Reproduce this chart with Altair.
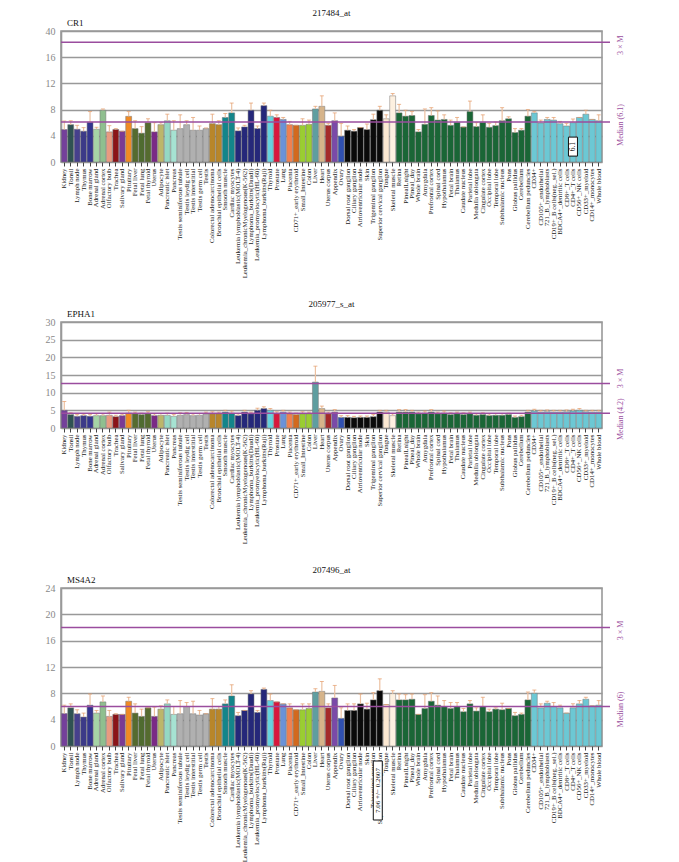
import altair as alt
import pandas as pd

tissues = ["Kidney", "Tonsil", "Lymph node", "Thymus", "Bone marrow", "Adrenal gland", "Adrenal cortex",
           "Olfactory bulb", "Trachea", "Salivary gland", "Pituitary", "Fetal liver", "Fetal lung",
           "Fetal thyroid", "Uterus", "Adipocyte", "Pancreatic islet", "Pancreas",
           "Testis seminiferous tubule", "Testis leydig cell", "Testis interstitial", "Testis germ cell",
           "Testis", "Colorectal adenocarcinoma", "Bronchial epithelial cells", "Smooth muscle",
           "Cardiac myocytes", "Leukemia lymphoblastic(MOLT-4)", "Leukemia_chronicMyelogenous(K-562)",
           "Lymphoma_burkitts(Daudi)", "Leukemia_promyelocytic(HL-60)", "Lymphoma_burkitts(Raji)",
           "Thyroid", "Prostate", "Lung", "Placenta", "CD71+_early erythroid", "Small_Intestine", "Colon",
           "Liver", "Heart", "Uterus corpus", "Appendix", "Ovary", "Dorsal root ganglion",
           "Ciliary ganglion", "Atrioventricular node", "Skin", "Trigeminal ganglion",
           "Superior cervical ganglion", "Tongue", "Skeletal muscle", "Retina", "PinealLnight",
           "Pineal_day", "Whole brain", "Amygdala", "Prefrontal cortex", "Spinal cord", "Hypothalamus",
           "Fetal brain", "Thalamus", "Caudate nucleus", "Parietal lobe", "Medulla oblongata",
           "Cingulate cortex", "Occipital lobe", "Temporal lobe", "Subthalamic nucleus", "Pons",
           "Globus pallidus", "Cerebellum", "Cerebellum peduncles", "CD34+", "CD105+_endothelial",
           "721_B_lymphoblasts", "CD19+_B cells(neg._sel.)", "BDCA4+_dentritic cells", "CD8+_T cells",
           "CD4+_T cells", "CD56+_NK cells", "CD33+_myeloid", "CD14+_monocytes", "Whole blood"]

colors = (["#74409a", "#2f5252", "#46408c", "#3c3a88", "#34358f", "#a6d4a6", "#8fbf8f", "#e99a80",
           "#8b1418", "#7a3a94", "#f08a24", "#556b2f", "#4f6b30", "#556b2f", "#7a2a86", "#bcb66a",
           "#94d8c4", "#a6e2d2"] + ["#b0b0b0"] * 5 + ["#b8862a", "#b8862a", "#13858a", "#13858a"]
          + ["#25287a"] * 5 + ["#66d2de", "#d8183c", "#6a92d8", "#f08050", "#d2691e", "#9acd32",
                               "#9acd32", "#5f9ea0", "#d6b48a", "#a52a2a", "#7a4aa8", "#3050b0"]
          + ["#0a0a0a"] * 6 + ["#fbe8d2", "#fdf0e0"] + ["#1a6636"] * 21 + ["#6cc8d4"] * 11)

cr1_mean = [4.95, 5.7, 5.0, 4.7, 6.06, 5.0, 7.9, 4.6, 4.96, 4.7, 6.97, 5.1, 4.4, 6.0, 4.6, 5.7, 6.3,
            4.85, 5.1, 5.7, 4.85, 4.85, 5.1, 5.86, 5.7, 6.8, 7.5, 4.75, 5.35, 7.9, 5.1, 8.6, 7.0, 6.8,
            6.5, 5.7, 5.6, 5.6, 5.75, 8.1, 8.5, 5.6, 6.3, 3.94, 4.85, 4.7, 5.25, 4.95, 6.45, 7.9, 6.6,
            10.1, 7.5, 7.0, 7.1, 4.6, 5.75, 7.1, 6.4, 6.5, 5.6, 6.05, 5.35, 7.7, 5.4, 6.05, 5.3, 5.55,
            6.3, 6.6, 4.5, 4.85, 7.0, 7.5, 5.95, 6.5, 6.4, 5.85, 5.5, 6.0, 6.8, 7.3, 6.5, 6.3]
cr1_top = [6.26, 6.3, 5.6, 5.25, 7.7, 5.3, 8.1, 5.55, 5.1, 4.7, 7.7, 6.3, 5.4, 6.6, 6.0, 6.0, 7.3,
           6.3, 7.2, 6.3, 6.8, 5.5, 5.2, 7.3, 6.3, 7.4, 9.0, 5.2, 5.6, 9.0, 5.5, 9.0, 7.9, 7.2, 6.8,
           6.2, 5.6, 6.6, 6.4, 8.5, 10.1, 5.9, 7.5, 5.9, 5.5, 4.95, 5.25, 5.8, 7.3, 8.5, 7.2, 10.45,
           8.8, 7.9, 7.7, 4.95, 8.1, 8.3, 7.8, 7.2, 6.4, 6.8, 5.35, 9.3, 6.0, 7.2, 5.9, 6.1, 8.3, 6.9,
           5.1, 5.1, 8.0, 7.7, 6.4, 6.8, 6.8, 6.2, 5.9, 6.55, 6.8, 7.9, 6.5, 7.2]

epha1_mean = [5.0, 3.8, 3.3, 3.5, 3.3, 3.5, 3.5, 3.6, 3.2, 3.5, 4.2, 4.0, 3.8, 4.0, 3.5, 3.6, 3.6, 3.3,
              3.6, 3.8, 3.5, 3.6, 4.0, 4.0, 4.0, 4.5, 4.2, 3.5, 4.5, 4.0, 5.0, 5.5, 5.0, 4.0, 4.5, 4.0,
              3.8, 4.0, 4.0, 13.0, 5.5, 4.0, 4.5, 3.0, 3.0, 2.9, 3.0, 3.0, 3.2, 4.5, 4.5, 3.5, 4.5, 4.5,
              4.5, 4.0, 4.2, 4.5, 4.0, 4.2, 3.8, 4.0, 3.8, 4.0, 3.6, 3.8, 3.5, 3.6, 3.6, 3.8, 3.0, 3.2,
              4.5, 4.8, 4.5, 4.6, 4.5, 4.5, 4.6, 4.8, 5.0, 4.6, 4.5, 4.5]
epha1_top = [7.5, 4.3, 3.8, 3.9, 3.8, 4.0, 4.0, 4.5, 3.6, 3.9, 5.0, 4.5, 4.2, 4.6, 4.0, 4.1, 4.2, 3.8,
             4.3, 4.4, 4.0, 4.1, 4.5, 4.6, 4.5, 5.0, 4.8, 4.0, 5.0, 4.5, 5.6, 6.0, 5.5, 4.6, 5.0, 4.5,
             4.2, 4.6, 4.5, 17.5, 6.2, 4.5, 5.2, 3.5, 3.5, 3.3, 3.4, 3.4, 3.8, 5.0, 5.0, 4.0, 5.2, 5.2,
             5.0, 4.5, 4.8, 5.2, 4.5, 4.8, 4.3, 4.5, 4.3, 4.5, 4.0, 4.3, 4.0, 4.1, 4.1, 4.2, 3.4, 3.6,
             5.0, 5.3, 5.0, 5.1, 5.0, 5.0, 5.1, 5.3, 5.5, 5.0, 5.0, 5.0]

ms4a2_mean = [4.92, 5.8, 4.9, 4.4, 6.2, 5.0, 6.7, 4.5, 4.8, 4.8, 6.8, 5.0, 4.5, 5.8, 4.5, 5.6, 6.4,
              4.8, 4.9, 6.0, 4.9, 4.7, 4.9, 5.6, 5.6, 6.4, 7.6, 4.6, 5.4, 7.9, 5.1, 8.6, 6.9, 6.7, 6.4,
              5.8, 5.5, 5.5, 5.7, 8.2, 8.3, 5.8, 7.3, 4.2, 5.4, 5.4, 6.4, 5.6, 7.0, 8.4, 6.3, 7.95,
              7.0, 7.0, 7.1, 4.8, 5.7, 6.8, 6.2, 6.0, 5.7, 6.0, 5.2, 6.4, 5.3, 6.0, 5.2, 5.6, 5.5, 5.7,
              4.6, 4.8, 7.0, 8.0, 5.8, 6.5, 6.0, 5.8, 5.0, 5.8, 6.4, 7.1, 6.1, 6.2]
ms4a2_top = [6.2, 6.4, 5.5, 5.0, 7.9, 5.4, 7.6, 5.4, 4.9, 4.8, 7.4, 6.4, 5.6, 5.8, 5.9, 6.1, 7.0,
             6.0, 6.9, 6.6, 6.8, 5.4, 4.9, 7.2, 6.0, 7.0, 9.3, 5.1, 5.4, 8.4, 5.4, 8.8, 7.9, 6.7, 6.4,
             6.4, 5.5, 6.4, 6.4, 8.7, 9.8, 6.4, 9.2, 5.8, 6.4, 6.4, 7.9, 6.5, 8.1, 10.2, 6.3, 8.4,
             7.9, 7.8, 7.9, 4.8, 7.8, 8.1, 7.6, 6.9, 6.6, 6.6, 5.7, 6.9, 5.8, 7.4, 5.6, 5.8, 6.5, 5.7,
             5.1, 5.0, 8.2, 8.5, 6.4, 6.8, 6.6, 6.2, 5.0, 6.4, 6.9, 7.4, 6.1, 6.9]

W = 541
PURPLE = "#9a4d9e"
SERIF = "Liberation Serif"


def panel(probe, gene, means, tops, ymax, ticks, tick_labels, median, height,
          label_shift=(3, 3), box=None, below=None):
    df = pd.DataFrame({"tissue": tissues, "mean": means, "top": tops, "color": colors})
    lab_expr = " : ".join([f"datum.value == {t} ? '{l}'" for t, l in zip(ticks, tick_labels)]) + " : ''"
    xs = alt.Scale(paddingInner=0.08, paddingOuter=0.05)
    xaxis = alt.Axis(title=None, labelAngle=-90, labelFontSize=6.8, labelFont=SERIF,
                     labelColor="#222", tickColor="#444", tickSize=4, domain=False,
                     labelPadding=2, labelLimit=300, labelOverlap=False)
    x = alt.X("tissue:N", sort=tissues, scale=xs, axis=xaxis)
    ysc = alt.Scale(domain=[0, ymax], nice=False, zero=True)
    yaxis = alt.Axis(title=None, values=ticks, labelExpr=lab_expr, labelFont=SERIF,
                     labelFontSize=10, labelColor="#888", ticks=False, labelPadding=6,
                     labelOverlap=False, grid=True,
                     gridColor="#999", gridWidth=1.6, domainColor="#999", domainWidth=1.6)

    def Y(field):
        return alt.Y(field, scale=ysc, axis=yaxis)

    base = alt.Chart(df)
    bars = base.mark_bar(stroke="#777", strokeWidth=0.5).encode(
        x=x, y=Y("mean:Q"), color=alt.Color("color:N", scale=None))
    err = base.mark_rule(color="#ecc0a0", strokeWidth=1.2).encode(
        x=x, y=Y("mean:Q"), y2="top:Q")
    caps = base.mark_tick(color="#e49a66", size=4, thickness=1).encode(
        x=x, y=Y("top:Q"))
    lines_df = pd.DataFrame({"v": [median, 3 * median]})
    lines = alt.Chart(lines_df).mark_rule(color=PURPLE, strokeWidth=1.5).encode(
        y=Y("v:Q"), x=alt.value(0), x2=alt.value(W + 8))
    ppu = height / ymax
    lab_df = pd.DataFrame({"v": [median - label_shift[0] / ppu, 3 * median - label_shift[1] / ppu],
                           "t": [f"Median ({median})", "3 × M"]})
    labs = alt.Chart(lab_df).mark_text(angle=270, color=PURPLE, font=SERIF, fontSize=8,
                                       align="center", baseline="middle").encode(
        y=Y("v:Q"), x=alt.value(W + 19), text="t:N")
    ttl_df = pd.DataFrame({"t": [probe], "g": [gene]})
    ttl = alt.Chart(ttl_df).mark_text(font=SERIF, fontSize=9, color="#111",
                                      baseline="middle").encode(
        x=alt.value(W / 2), y=alt.value(-18), text="t:N")
    gl = alt.Chart(ttl_df).mark_text(font=SERIF, fontSize=9, color="#111", align="left",
                                     baseline="middle").encode(
        x=alt.value(6), y=alt.value(-8), text="g:N")
    layers = [bars, err, caps, lines, labs, ttl, gl]
    if box is not None:
        bdf = pd.DataFrame({"tissue": [box[0]], "lo": [box[1]], "hi": [box[2]],
                            "mid": [(box[1] + box[2]) / 2], "t": [box[3]]})
        layers.append(alt.Chart(bdf).mark_bar(fill="white", stroke="#111", strokeWidth=1, width=9).encode(
            x=x, y=Y("lo:Q"), y2="hi:Q"))
        layers.append(alt.Chart(bdf).mark_text(angle=270, font=SERIF, fontSize=7.5, color="#111",
                                               baseline="middle").encode(
            x=x, y=Y("mid:Q"), text="t:N"))
    if below is not None:
        bdf = pd.DataFrame({"tissue": [below[0]], "t": [below[1]]})
        layers.append(alt.Chart(bdf).mark_bar(fill="white", stroke="#111", strokeWidth=1, width=9,
                                              xOffset=-2).encode(
            x=x, y=alt.value(height + 15), y2=alt.value(height + 74)))
        layers.append(alt.Chart(bdf).mark_text(angle=270, font=SERIF, fontSize=7, color="#111",
                                               baseline="middle", xOffset=-2).encode(
            x=x, y=alt.value(height + 44.5), text="t:N"))
    return alt.layer(*layers).properties(width=W, height=height)


p1 = panel("217484_at", "CR1", cr1_mean, cr1_top, 20, [0, 4, 8, 12, 16, 20],
           ["0", "4", "8", "12", "16", "40"], 6.1, 131, label_shift=(3, 3),
           box=("CD4+_T cells", 0.9, 3.8, "6.1"))
p2 = panel("205977_s_at", "EPHA1", epha1_mean, epha1_top, 30, [0, 5, 10, 15, 20, 25, 30],
           ["0", "5", "10", "15", "20", "25", "30"], 4.2, 106, label_shift=(6, -5))
p3 = panel("207496_at", "MS4A2", ms4a2_mean, ms4a2_top, 24, [0, 4, 8, 12, 16, 20, 24],
           ["0", "4", "8", "12", "16", "20", "24"], 6, 158, label_shift=(3, 3),
           below=("Superior cervical ganglion", "7.06 +/− 0.2607"))

chart = alt.VConcatChart(vconcat=[p1, p2, p3], spacing=160, bounds="flush").properties(
    padding={"left": 36, "top": 0, "right": 0, "bottom": 0}
).configure_view(stroke="#999", strokeWidth=1.6)

chart.save("out.html", embed_options={"renderer": "svg", "actions": False})
